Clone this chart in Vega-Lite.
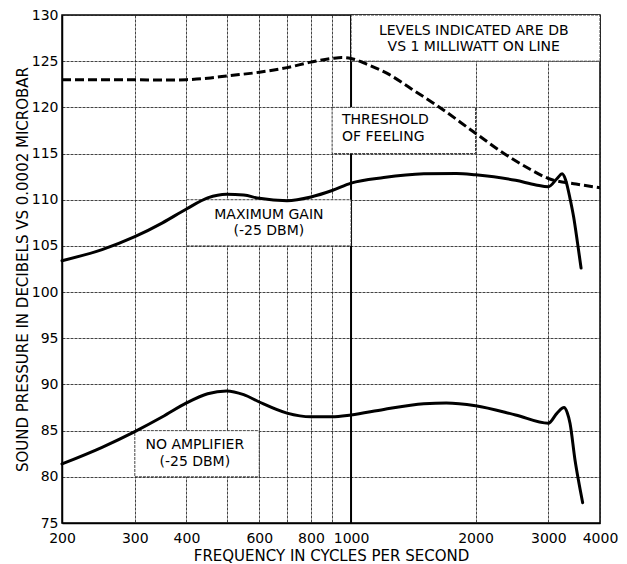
{
  "$schema": "https://vega.github.io/schema/vega-lite/v6.json",
  "width": 538,
  "height": 508,
  "autosize": {"type": "none"},
  "padding": {"left": 62, "top": 15, "right": 27, "bottom": 41},
  "background": "white",
  "config": {
    "view": {"stroke": "black", "strokeWidth": 1.5},
    "font": "DejaVu Sans",
    "axis": {
      "labelFont": "DejaVu Sans",
      "labelFontSize": 14,
      "labelColor": "black",
      "titleFont": "DejaVu Sans",
      "titleFontSize": 15,
      "titleFontWeight": "normal",
      "titleColor": "black",
      "ticks": false,
      "domainColor": "black",
      "domainWidth": 1.5,
      "grid": true,
      "gridColor": "#222",
      "gridDash": [3, 1],
      "gridWidth": 1,
      "gridOpacity": 0.85
    }
  },
  "datasets": {
    "curves": [
      {"series": "threshold", "f": 200, "db": 123.0},
      {"series": "threshold", "f": 250, "db": 123.0},
      {"series": "threshold", "f": 300, "db": 123.0},
      {"series": "threshold", "f": 350, "db": 122.95},
      {"series": "threshold", "f": 400, "db": 123.0},
      {"series": "threshold", "f": 450, "db": 123.15},
      {"series": "threshold", "f": 500, "db": 123.4},
      {"series": "threshold", "f": 600, "db": 123.8},
      {"series": "threshold", "f": 700, "db": 124.3},
      {"series": "threshold", "f": 800, "db": 124.9},
      {"series": "threshold", "f": 900, "db": 125.3},
      {"series": "threshold", "f": 950, "db": 125.4},
      {"series": "threshold", "f": 1000, "db": 125.3},
      {"series": "threshold", "f": 1100, "db": 124.6},
      {"series": "threshold", "f": 1220, "db": 123.7},
      {"series": "threshold", "f": 1400, "db": 122.0},
      {"series": "threshold", "f": 1614, "db": 120.2},
      {"series": "threshold", "f": 2000, "db": 117.2},
      {"series": "threshold", "f": 2400, "db": 114.7},
      {"series": "threshold", "f": 2710, "db": 113.3},
      {"series": "threshold", "f": 3000, "db": 112.3},
      {"series": "threshold", "f": 3500, "db": 111.7},
      {"series": "threshold", "f": 4000, "db": 111.3},
      {"series": "maxgain", "f": 200, "db": 103.4},
      {"series": "maxgain", "f": 250, "db": 104.6},
      {"series": "maxgain", "f": 300, "db": 106.0},
      {"series": "maxgain", "f": 350, "db": 107.5},
      {"series": "maxgain", "f": 400, "db": 109.0},
      {"series": "maxgain", "f": 450, "db": 110.2},
      {"series": "maxgain", "f": 500, "db": 110.6},
      {"series": "maxgain", "f": 550, "db": 110.5},
      {"series": "maxgain", "f": 600, "db": 110.15},
      {"series": "maxgain", "f": 700, "db": 109.9},
      {"series": "maxgain", "f": 800, "db": 110.3},
      {"series": "maxgain", "f": 900, "db": 111.0},
      {"series": "maxgain", "f": 1000, "db": 111.8},
      {"series": "maxgain", "f": 1200, "db": 112.4},
      {"series": "maxgain", "f": 1500, "db": 112.8},
      {"series": "maxgain", "f": 1800, "db": 112.85},
      {"series": "maxgain", "f": 2000, "db": 112.7},
      {"series": "maxgain", "f": 2500, "db": 112.1},
      {"series": "maxgain", "f": 2800, "db": 111.6},
      {"series": "maxgain", "f": 3000, "db": 111.4},
      {"series": "maxgain", "f": 3150, "db": 112.3},
      {"series": "maxgain", "f": 3240, "db": 112.8},
      {"series": "maxgain", "f": 3300, "db": 112.2},
      {"series": "maxgain", "f": 3390, "db": 110.0},
      {"series": "maxgain", "f": 3455, "db": 108.1},
      {"series": "maxgain", "f": 3530, "db": 105.3},
      {"series": "maxgain", "f": 3600, "db": 102.6},
      {"series": "noamp", "f": 200, "db": 81.4},
      {"series": "noamp", "f": 250, "db": 83.2},
      {"series": "noamp", "f": 300, "db": 84.9},
      {"series": "noamp", "f": 350, "db": 86.5},
      {"series": "noamp", "f": 400, "db": 88.0},
      {"series": "noamp", "f": 450, "db": 89.0},
      {"series": "noamp", "f": 500, "db": 89.3},
      {"series": "noamp", "f": 550, "db": 88.9},
      {"series": "noamp", "f": 600, "db": 88.1},
      {"series": "noamp", "f": 700, "db": 86.9},
      {"series": "noamp", "f": 800, "db": 86.5},
      {"series": "noamp", "f": 900, "db": 86.5},
      {"series": "noamp", "f": 1000, "db": 86.7},
      {"series": "noamp", "f": 1200, "db": 87.3},
      {"series": "noamp", "f": 1500, "db": 87.9},
      {"series": "noamp", "f": 1700, "db": 88.0},
      {"series": "noamp", "f": 2000, "db": 87.7},
      {"series": "noamp", "f": 2500, "db": 86.7},
      {"series": "noamp", "f": 3000, "db": 85.8},
      {"series": "noamp", "f": 3150, "db": 86.9},
      {"series": "noamp", "f": 3274, "db": 87.5},
      {"series": "noamp", "f": 3330, "db": 87.0},
      {"series": "noamp", "f": 3385, "db": 85.8},
      {"series": "noamp", "f": 3481, "db": 81.8},
      {"series": "noamp", "f": 3545, "db": 79.7},
      {"series": "noamp", "f": 3632, "db": 77.2}
    ],
    "boxes": [
      {"f1": 1000, "f2": 4000, "d1": 125, "d2": 130},
      {"f1": 900, "f2": 2000, "d1": 115, "d2": 120},
      {"f1": 400, "f2": 1000, "d1": 105, "d2": 110},
      {"f1": 300, "f2": 600, "d1": 80, "d2": 85}
    ],
    "labels": [
      {"f": 1980, "db": 128.25, "text": "LEVELS INDICATED ARE DB"},
      {"f": 1980, "db": 126.5, "text": "VS 1 MILLIWATT ON LINE"},
      {"f": 633, "db": 108.35, "text": "MAXIMUM GAIN"},
      {"f": 633, "db": 106.6, "text": "(-25 DBM)"},
      {"f": 419, "db": 83.45, "text": "NO AMPLIFIER"},
      {"f": 419, "db": 81.65, "text": "(-25 DBM)"}
    ],
    "leftlabels": [
      {"f": 951, "db": 118.65, "text": "THRESHOLD"},
      {"f": 951, "db": 116.8, "text": "OF FEELING"}
    ],
    "heavy": [{"f": 1000}]
  },
  "layer": [
    {
      "data": {"name": "heavy"},
      "mark": {"type": "rule", "color": "black", "strokeWidth": 2},
      "encoding": {
        "x": {
          "field": "f", "type": "quantitative",
          "scale": {"type": "log", "domain": [200, 4000], "nice": false},
          "axis": {
            "values": [200, 300, 400, 500, 600, 700, 800, 900, 1000, 2000, 3000, 4000],
            "format": "d",
            "labelExpr": "datum.value == 500 || datum.value == 700 || datum.value == 900 ? '' : datum.label",
            "labelPadding": 8,
            "labelFlush": false,
            "labelOverlap": false,
            "titlePadding": 3,
            "title": "FREQUENCY IN CYCLES PER SECOND"
          }
        }
      }
    },
    {
      "data": {"name": "boxes"},
      "mark": {"type": "rect", "fill": "white", "stroke": "#222", "strokeDash": [3, 1], "strokeWidth": 1, "strokeOpacity": 0.85},
      "encoding": {
        "x": {"field": "f1", "type": "quantitative"},
        "x2": {"field": "f2"},
        "y": {
          "field": "d1", "type": "quantitative",
          "scale": {"domain": [75, 130], "nice": false, "zero": false},
          "axis": {
            "values": [75, 80, 85, 90, 95, 100, 105, 110, 115, 120, 125, 130],
            "labelPadding": 4,
            "labelFlush": false,
            "labelOverlap": false,
            "titlePadding": 1,
            "title": "SOUND PRESSURE IN DECIBELS VS 0.0002 MICROBAR"
          }
        },
        "y2": {"field": "d2"}
      }
    },
    {
      "data": {"name": "curves"},
      "transform": [{"filter": "datum.series != 'threshold'"}],
      "mark": {"type": "line", "color": "black", "strokeWidth": 3, "interpolate": "monotone", "strokeCap": "round", "strokeJoin": "round"},
      "encoding": {
        "x": {"field": "f", "type": "quantitative"},
        "y": {"field": "db", "type": "quantitative"},
        "detail": {"field": "series"}
      }
    },
    {
      "data": {"name": "curves"},
      "transform": [{"filter": "datum.series == 'threshold'"}],
      "mark": {"type": "line", "color": "black", "strokeWidth": 3, "strokeDash": [9, 4], "interpolate": "monotone"},
      "encoding": {
        "x": {"field": "f", "type": "quantitative"},
        "y": {"field": "db", "type": "quantitative"}
      }
    },
    {
      "data": {"name": "labels"},
      "mark": {"type": "text", "font": "DejaVu Sans", "fontSize": 14, "color": "black", "align": "center", "baseline": "middle"},
      "encoding": {
        "x": {"field": "f", "type": "quantitative"},
        "y": {"field": "db", "type": "quantitative"},
        "text": {"field": "text"}
      }
    },
    {
      "data": {"name": "leftlabels"},
      "mark": {"type": "text", "font": "DejaVu Sans", "fontSize": 14, "color": "black", "align": "left", "baseline": "middle"},
      "encoding": {
        "x": {"field": "f", "type": "quantitative"},
        "y": {"field": "db", "type": "quantitative"},
        "text": {"field": "text"}
      }
    }
  ]
}
